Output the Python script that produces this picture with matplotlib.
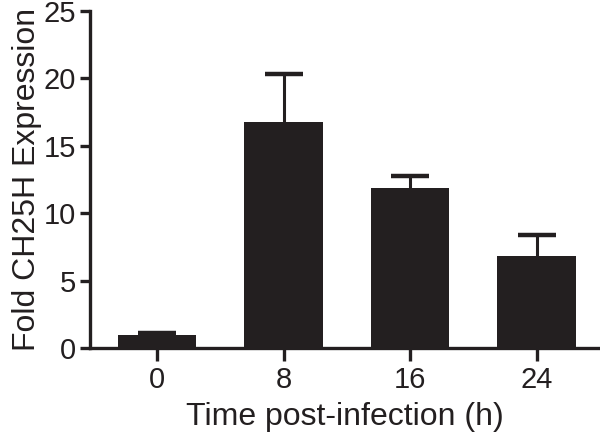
import matplotlib
matplotlib.use("Agg")
import matplotlib.pyplot as plt
import numpy as np

categories = ["0", "8", "16", "24"]
means = [0.95, 16.8, 11.85, 6.82]
errors = [0.2, 3.5, 0.92, 1.58]
y_ticks = [0, 5, 10, 15, 20, 25]

plt.rcParams['font.family'] = ['Liberation Sans', 'DejaVu Sans']
col = '#231f20'

fig = plt.figure(figsize=(6.0, 4.43), dpi=100)
ax = fig.add_axes([0.15, 0.2144, 0.85, 0.7608])
x = np.arange(len(categories))
ax.bar(x, means, width=0.62, color=col, zorder=2)
eb = ax.errorbar(x, means, yerr=[np.zeros(len(errors)), errors], fmt='none',
                 ecolor=col, elinewidth=2.2, capsize=14, capthick=3.2, zorder=1)
eb[1][0].set_visible(False)
ax.set_xlim(-0.53, 3.5)
ax.set_ylim(0, 25)
ax.set_yticks(y_ticks)
ax.set_xticks(x)
ax.set_xticklabels(categories)
for s in ['top', 'right']:
    ax.spines[s].set_visible(False)
for s in ['left', 'bottom']:
    ax.spines[s].set_linewidth(2.4)
    ax.spines[s].set_color(col)
ax.tick_params(axis='both', colors=col, labelsize=21, width=2.4, length=7,
               labelcolor=col)
ax.tick_params(axis='y', pad=3)
ax.tick_params(axis='x', length=9, pad=4)
ax.set_ylabel("Fold CH25H Expression", fontsize=23, color=col, labelpad=1)
ax.set_xlabel("Time post-infection (h)", fontsize=23, color=col, labelpad=6)
fig.savefig("out.png", dpi=100)
